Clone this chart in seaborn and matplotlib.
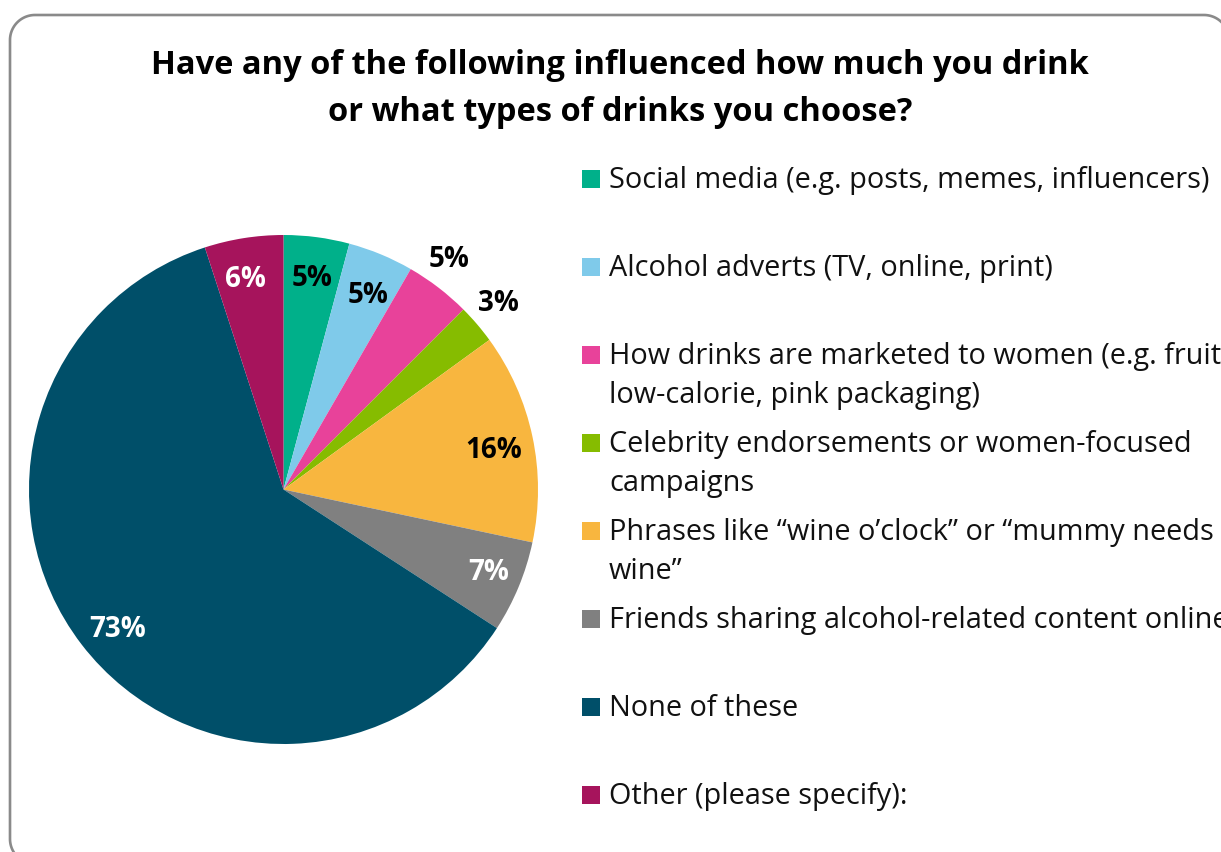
import matplotlib
matplotlib.use("Agg")
import matplotlib.pyplot as plt
from matplotlib.patches import Rectangle
from matplotlib.lines import Line2D
from matplotlib.transforms import IdentityTransform, offset_copy
import seaborn as sns
import numpy as np

# ---- data ----
categories = [
    "Social media (e.g. posts, memes, influencers)",
    "Alcohol adverts (TV, online, print)",
    "How drinks are marketed to women (e.g. fruity,\nlow-calorie, pink packaging)",
    "Celebrity endorsements or women-focused\ncampaigns",
    "Phrases like \u201cwine o\u2019clock\u201d or \u201cmummy needs\nwine\u201d",
    "Friends sharing alcohol-related content online",
    "None of these",
    "Other (please specify):",
]
values = [5, 5, 5, 3, 16, 7, 73, 6]
pct_labels = ["5%", "5%", "5%", "3%", "16%", "7%", "73%", "6%"]
colors = ["#00B08A", "#7FCAEA", "#E8429A", "#86BC00", "#F8B63F", "#808080", "#004F69", "#A6145C"]
title_lines = ["Have any of the following influenced how much you drink",
               "or what types of drinks you choose?"]

# ---- style ----
sns.set_theme(style="white")
FONT = ["Open Sans", "DejaVu Sans"]
plt.rcParams["font.family"] = FONT
palette = sns.color_palette(colors)

W, H = 1221, 853
fig = plt.figure(figsize=(W / 100, H / 100), dpi=100)
fig.patch.set_facecolor("white")

# ---- rounded card border (pixel coords, top-left origin), only visible part ----
xl, xr, yt, yb, R = 10, 1229, 16, 865, 25
pts = []
for a in np.linspace(0, 90, 30):          # top-right corner
    t = np.deg2rad(a)
    pts.append((xr - R + R * np.cos(t), yt + R - R * np.sin(t)))
for a in np.linspace(90, 180, 30):        # top-left corner
    t = np.deg2rad(a)
    pts.append((xl + R + R * np.cos(t), yt + R - R * np.sin(t)))
for a in np.linspace(180, 270, 30):       # bottom-left corner
    t = np.deg2rad(a)
    pts.append((xl + R + R * np.cos(t), yb - R - R * np.sin(t)))
pts = [(x, y) for x, y in pts if x <= W + 2 and y <= H + 2]
bx = [p[0] for p in pts]
by = [H - p[1] for p in pts]
fig.add_artist(Line2D(bx, by, transform=IdentityTransform(), color="#8a8a8a",
                      linewidth=1.9, solid_capstyle="butt", zorder=0))

# ---- pie: centre (283.5, 490.5) px, radius 254.5 px ----
cx, cy, r = 283.5, 490.5, 254.5
ax = fig.add_axes([(cx - r) / W, (H - cy - r) / H, 2 * r / W, 2 * r / H])
wedges, _ = ax.pie(values, colors=palette, startangle=90, counterclock=False,
                   wedgeprops=dict(linewidth=0))
ax.set_xlim(-1, 1)
ax.set_ylim(-1, 1)
ax.set_aspect("equal")
ax.axis("off")

# label placement: radial distance and clockwise angle nudge (degrees)
dist = [0.858, 0.848, 1.131, 1.130, 0.845, 0.863, 0.840, 0.860]
nudge = [0.0, 0.5, -2.4, -1.0, 0.3, -1.8, -1.8, -1.1]
txt_colors = ["black", "black", "black", "black", "black", "white", "white", "white"]
lab_tr = offset_copy(ax.transData, fig=fig, x=0, y=-4, units="dots")
for w, lab, d, n, c in zip(wedges, pct_labels, dist, nudge, txt_colors):
    mid = np.deg2rad((w.theta1 + w.theta2) / 2 - n)
    ax.text(d * np.cos(mid), d * np.sin(mid), lab, ha="center", va="center",
            fontsize=20, fontweight="bold", color=c, clip_on=False,
            transform=lab_tr)

renderer = fig.canvas.get_renderer()

def fit(t, target_px):
    bb = t.get_window_extent(renderer)
    t.set_fontsize(t.get_fontsize() * target_px / bb.width)

# ---- title ----
t1 = fig.text(620 / W, 1 - 74 / H, title_lines[0], ha="center", va="baseline",
              fontsize=22, fontweight="bold", color="black")
t2 = fig.text(620 / W, 1 - 121 / H, title_lines[1], ha="center", va="baseline",
              fontsize=22, fontweight="bold", color="black")
fit(t1, 936)
t2.set_fontsize(t1.get_fontsize())

# ---- legend (fixed slots, as in the reference) ----
base0, step, line_gap = 188, 88, 39
tx, sx, sw, sh = 609, 582, 18, 18
leg_texts = []
for i, (cat, col) in enumerate(zip(categories, palette)):
    b = base0 + i * step
    fig.patches.append(Rectangle((sx / W, 1 - (b + 1) / H), sw / W, sh / H,
                                 transform=fig.transFigure, facecolor=col,
                                 edgecolor="none"))
    for j, line in enumerate(cat.split("\n")):
        leg_texts.append(fig.text(tx / W, 1 - (b + j * line_gap) / H, line,
                                  ha="left", va="baseline", fontsize=18,
                                  color="#111111"))
fit(leg_texts[0], 601)
for t in leg_texts[1:]:
    t.set_fontsize(leg_texts[0].get_fontsize())

fig.savefig("out.png", dpi=100)
